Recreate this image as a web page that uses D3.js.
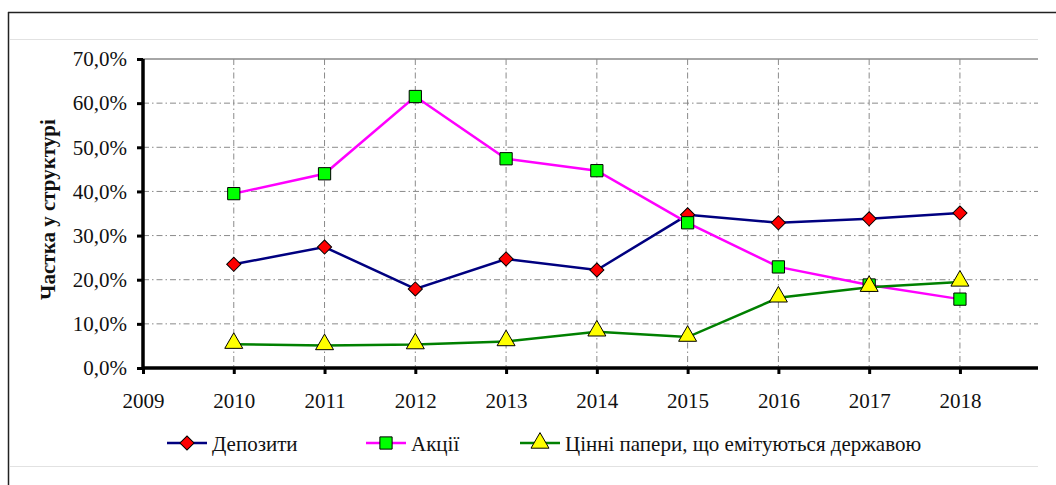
<!DOCTYPE html>
<html>
<head>
<meta charset="utf-8">
<script src="https://cdn.jsdelivr.net/npm/d3@7"></script>
<style>
  body { margin: 0; background: #fff; }
  svg { font-family: "Liberation Serif", "Times New Roman", serif; }
</style>
</head>
<body>
<svg class="chart" width="1056" height="485"></svg>
<script>

// Chart data.
var years = [2010, 2011, 2012, 2013, 2014, 2015, 2016, 2017, 2018];
var deposits = [23.5, 27.4, 17.9, 24.7, 22.2, 34.7, 32.9, 33.8, 35.1];
var shares = [39.5, 44.0, 61.5, 47.4, 44.7, 32.9, 22.9, 18.8, 15.6];
var govPapers = [5.4, 5.1, 5.3, 6.0, 8.2, 7.0, 15.9, 18.3, 19.5];
var yTicks = [0, 10, 20, 30, 40, 50, 60, 70];
var xTicks = [2009, 2010, 2011, 2012, 2013, 2014, 2015, 2016, 2017, 2018];
var seriesNames = ["Депозити", "Акції", "Цінні папери, що емітуються державою"];

var series = [
  {name: seriesNames[0], values: deposits, line: "#000080", fill: "#ff0000", shape: "diamond"},
  {name: seriesNames[1], values: shares, line: "#ff00ff", fill: "#00ff00", shape: "square"},
  {name: seriesNames[2], values: govPapers, line: "#008000", fill: "#ffff00", shape: "triangle"}
];

var svg = d3.select(".chart");

// Outer frame.
svg.append("line").attr("x1", 8).attr("x2", 1056).attr("y1", 12.5).attr("y2", 12.5)
    .attr("stroke", "#222").attr("stroke-width", 1.5);
svg.append("line").attr("x1", 8.5).attr("x2", 8.5).attr("y1", 12).attr("y2", 485)
    .attr("stroke", "#222").attr("stroke-width", 1.5);
[39.5, 466.5].forEach(function(y) {
  svg.append("line").attr("x1", 10).attr("x2", 1038).attr("y1", y).attr("y2", y)
      .attr("stroke", "#e2e2e2").attr("stroke-width", 1);
});

var margin = {top: 59, left: 143},
    width = 1038 - margin.left,
    height = 368 - margin.top;

var g = svg.append("g")
    .attr("transform", "translate(" + margin.left + "," + margin.top + ")");

var x = d3.scaleLinear().domain([2009, 2018.86]).range([0, width]);
var y = d3.scaleLinear().domain([0, 70]).range([height, 0]);

// Top border of plot area.
g.append("line").attr("x1", 0).attr("x2", width).attr("y1", 0).attr("y2", 0)
    .attr("stroke", "#888").attr("stroke-width", 1.5);

// Grid lines.
g.selectAll(".hgrid")
    .data(yTicks.filter(function(d) { return d > 0 && d < 70; }))
  .enter().append("line")
    .attr("x1", 0).attr("x2", width)
    .attr("y1", function(d) { return y(d); })
    .attr("y2", function(d) { return y(d); })
    .attr("stroke", "#8a8a8a").attr("stroke-dasharray", "6,3,1.5,3");

g.selectAll(".vgrid")
    .data(years)
  .enter().append("line")
    .attr("x1", function(d) { return x(d); })
    .attr("x2", function(d) { return x(d); })
    .attr("y1", 0).attr("y2", height)
    .attr("stroke", "#8a8a8a").attr("stroke-dasharray", "6,3,1.5,3");

// Axes.
var yAxis = g.append("g")
    .call(d3.axisLeft(y).tickValues(yTicks).tickSize(6).tickPadding(10)
      .tickFormat(function(d) { return d.toFixed(1).replace(".", ",") + "%"; }));
yAxis.select(".domain").remove();
yAxis.selectAll("line").attr("stroke", "#000").attr("stroke-width", 3);
yAxis.selectAll("text").attr("font-size", "21px").attr("fill", "#111")
    .attr("font-family", "Liberation Serif");

var xAxis = g.append("g")
    .attr("transform", "translate(0," + height + ")")
    .call(d3.axisBottom(x).tickValues(xTicks).tickSize(6).tickPadding(19)
      .tickFormat(d3.format("d")));
xAxis.select(".domain").remove();
xAxis.selectAll("line").attr("stroke", "#000").attr("stroke-width", 3);
xAxis.selectAll("text").attr("font-size", "21px").attr("fill", "#111")
    .attr("font-family", "Liberation Serif");

g.append("line").attr("x1", 0).attr("x2", width).attr("y1", height).attr("y2", height)
    .attr("stroke", "#000").attr("stroke-width", 3.5);
g.append("line").attr("x1", 0).attr("x2", 0).attr("y1", 0).attr("y2", height + 2)
    .attr("stroke", "#000").attr("stroke-width", 3.5);

// Y axis title.
svg.append("text")
    .attr("transform", "translate(55," + (margin.top + height / 2 - 4) + ") rotate(-90)")
    .attr("text-anchor", "middle")
    .attr("font-size", "21px")
    .attr("font-weight", "bold")
    .attr("fill", "#111")
    .text("Частка у структурі");

function marker(shape) {
  if (shape === "diamond") return d3.symbol().type(d3.symbolSquare).size(100)();
  if (shape === "square") return d3.symbol().type(d3.symbolSquare).size(150)();
  return d3.symbol().type(d3.symbolTriangle).size(140)();
}

var line = d3.line()
    .x(function(d, i) { return x(years[i]); })
    .y(function(d) { return y(d); });

// Lines and markers.
series.forEach(function(s) {
  g.append("path")
      .datum(s.values)
      .attr("d", line)
      .attr("fill", "none")
      .attr("stroke", s.line)
      .attr("stroke-width", 2.5);
});

series.forEach(function(s) {
  g.selectAll(".m-" + s.shape)
      .data(s.values)
    .enter().append("path")
      .attr("d", marker(s.shape))
      .attr("transform", function(d, i) {
        var t = "translate(" + x(years[i]) + "," + y(d) + ")";
        return s.shape === "diamond" ? t + " rotate(45)" : (s.shape === "triangle" ? "translate(" + x(years[i]) + "," + (y(d) - 1) + ")" : t);
      })
      .attr("fill", s.fill)
      .attr("stroke", "#000")
      .attr("stroke-width", 1);
});

// Legend.
var legendX = [167, 366, 520];
var legend = svg.selectAll(".legend")
    .data(series)
  .enter().append("g")
    .attr("transform", function(d, i) { return "translate(" + legendX[i] + ",443)"; });

legend.append("line")
    .attr("x1", 0).attr("x2", 40)
    .attr("stroke", function(d) { return d.line; })
    .attr("stroke-width", 2.5);

legend.append("path")
    .attr("d", function(d) { return marker(d.shape); })
    .attr("transform", function(d) { return "translate(20,0)" + (d.shape === "diamond" ? " rotate(45)" : ""); })
    .attr("fill", function(d) { return d.fill; })
    .attr("stroke", "#000")
    .attr("stroke-width", 1);

legend.append("text")
    .attr("x", 45)
    .attr("y", 8)
    .attr("font-size", "21px")
    .attr("fill", "#111")
    .text(function(d) { return d.name; });

</script>
</body>
</html>
